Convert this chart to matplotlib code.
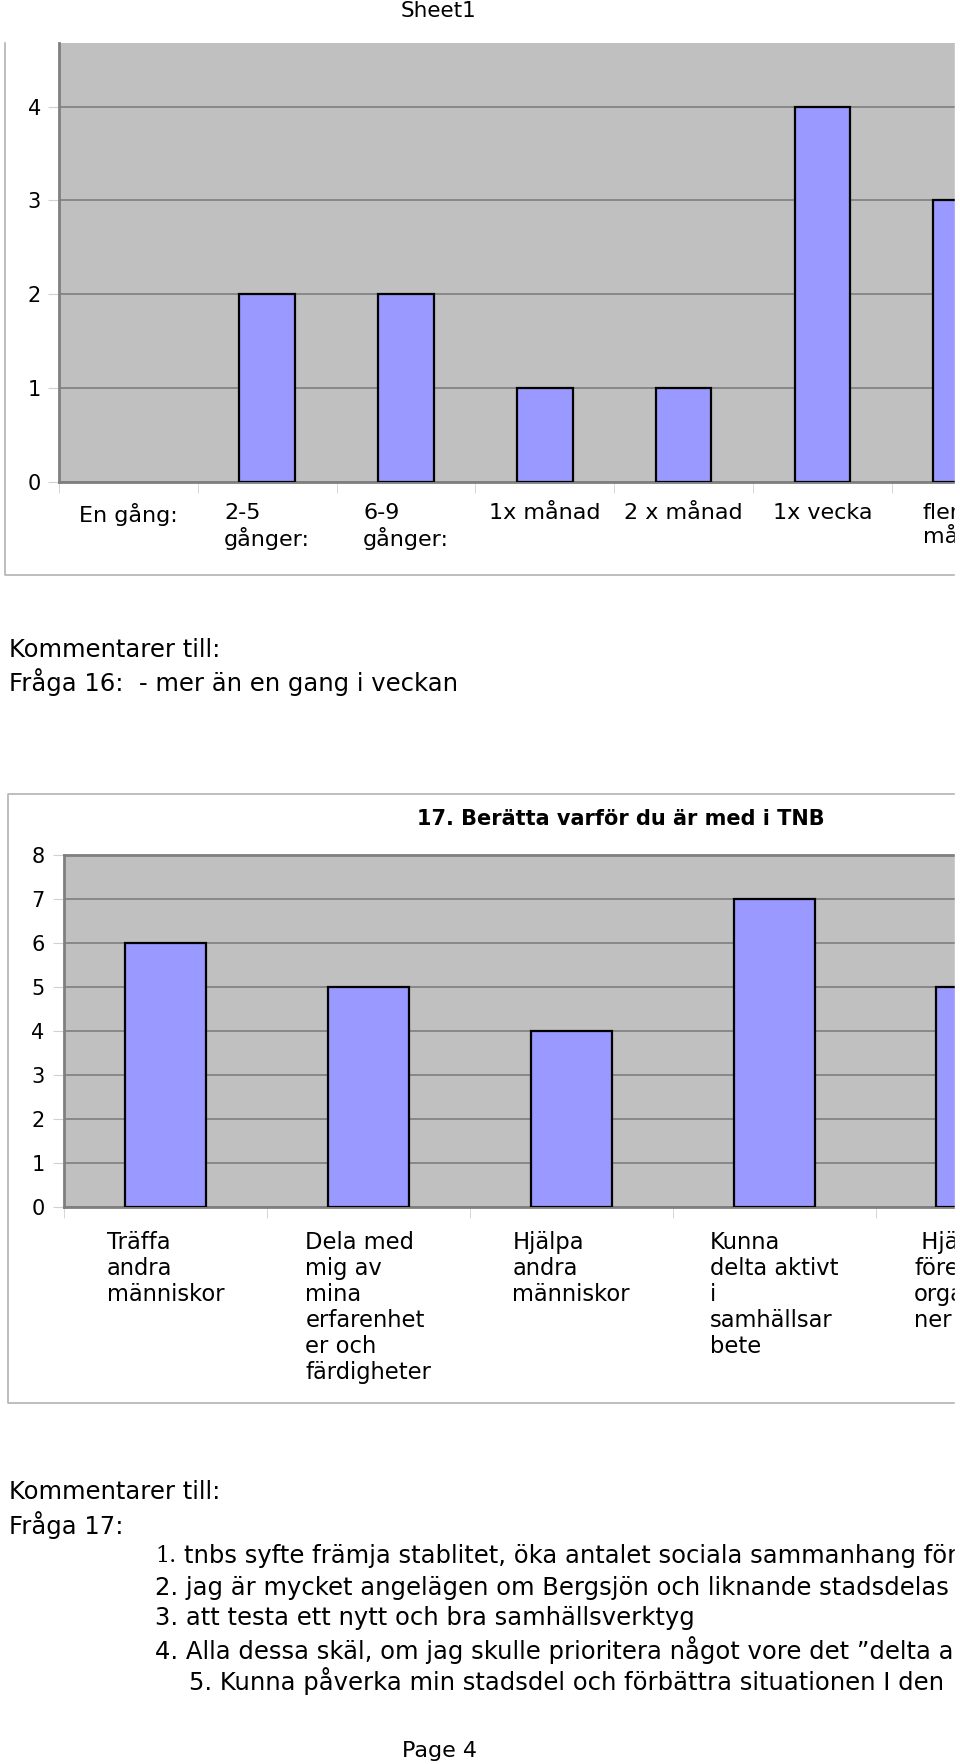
import matplotlib.pyplot as plt
from matplotlib.patches import Rectangle
from matplotlib.lines import Line2D

W, H = 960, 1764

# Fråga 16 chart
freq_labels = ["En gång:", "2-5\ngånger:", "6-9\ngånger:", "1x månad",
               "2 x månad", "1x vecka", "flera\nmånad"]
freq_counts = [0, 2, 2, 1, 1, 4, 3]

# Fråga 17 chart
reason_title = "17. Berätta varför du är med i TNB"
reason_labels = ["Träffa\nandra\nmänniskor",
                 "Dela med\nmig av\nmina\nerfarenhet\ner och\nfärdigheter",
                 "Hjälpa\nandra\nmänniskor",
                 "Kunna\ndelta aktivt\ni\nsamhällsar\nbete",
                 " Hjälpa\nföreningar/\norganisatio\nner"]
reason_counts = [6, 5, 4, 7, 5]

comment_16 = "Fråga 16:  - mer än en gang i veckan"
comments_17 = [
    "tnbs syfte främja stablitet, öka antalet sociala sammanhang för",
    "2. jag är mycket angelägen om Bergsjön och liknande stadsdelas framtid",
    "3. att testa ett nytt och bra samhällsverktyg",
    "4. Alla dessa skäl, om jag skulle prioritera något vore det ”delta aktivt”",
    "5. Kunna påverka min stadsdel och förbättra situationen I den",
]

BAR = '#9999ff'
BG = '#c0c0c0'
GRID = '#7f7f7f'
BORDER = '#b3b3b3'

fig = plt.figure(figsize=(W / 100, H / 100), dpi=100)


def fx(x):
    return x / W


def fy(y):
    return 1 - y / H


def px_axes(x0, x1, top, bottom):
    return fig.add_axes([fx(x0), fy(bottom), (x1 - x0) / W, (bottom - top) / H])


def border_line(xs, ys):
    fig.add_artist(Line2D([fx(x) for x in xs], [fy(y) for y in ys],
                          transform=fig.transFigure, color=BORDER, lw=1.2))


def text(x, y, s, **kw):
    kw.setdefault('fontsize', 17.5)
    kw.setdefault('va', 'center')
    fig.text(fx(x), fy(y), s, **kw)


def bar_chart(ax, labels, counts, xmax, ymax, label_size, label_pad, linesp, top_spine):
    ax.set_facecolor(BG)
    xs = [i + 0.5 for i in range(len(counts))]
    lws = [1.6 if v else 0 for v in counts]
    ax.bar(xs, counts, width=0.4, color=BAR, edgecolor='black',
           linewidth=lws, zorder=3)
    ax.set_yticks(range(int(ymax) + 1))
    ax.yaxis.grid(True, color=GRID, lw=1.2)
    ax.set_axisbelow(True)
    for side in ['left', 'bottom', 'top']:
        ax.spines[side].set_color(GRID)
        ax.spines[side].set_linewidth(2)
    ax.spines['right'].set_visible(False)
    ax.spines['top'].set_visible(top_spine)
    ax.tick_params(axis='y', length=8, color='#d0d0d0', pad=5, labelsize=15)
    ax.set_xticks(xs)
    ax.set_xticklabels(labels)
    ax.set_xticks(range(len(counts) + 1), minor=True)
    ax.tick_params(axis='x', which='major', length=0, pad=label_pad,
                   labelsize=label_size)
    ax.tick_params(axis='x', which='minor', length=8, color='#d0d0d0')
    for lab in ax.get_xticklabels():
        lab.set_multialignment('left')
        lab.set_linespacing(linesp)
        lab.set_verticalalignment('top')
    ax.set_xlim(0, xmax)
    ax.set_ylim(0, ymax)


# the axes run past the page edge; the page crops them at x=955
X_END = 1160

# chart 1
ax1 = px_axes(59, X_END, 43, 481.7)
bar_chart(ax1, freq_labels, freq_counts, (X_END - 59) / 138.8, 4.68, 16, 15, 1.25, False)
border_line([4.5, 4.5, 955], [43, 575, 575])
text(439, 11, "Sheet1", fontsize=15.5, ha='center')

text(9, 650, "Kommentarer till:")
text(9, 682, comment_16)

# chart 2
ax2 = px_axes(64, X_END, 855, 1207)
bar_chart(ax2, reason_labels, reason_counts, (X_END - 64) / 202.9, 8, 16.3, 17, 1.17, True)
ax2.tick_params(axis='y', pad=6)
border_line([955, 7.5, 7.5, 955], [794, 794, 1403, 1403])
text(621, 819, reason_title, fontsize=15, fontweight='bold', ha='center')

text(9, 1492, "Kommentarer till:")
text(9, 1525, "Fråga 17:")
text(155, 1556, "1.", family='DejaVu Serif', fontsize=16)
text(184, 1556, comments_17[0])
line_y = [1588, 1618, 1650, 1681]
line_x = [155, 155, 155, 189]
for x, y, s in zip(line_x, line_y, comments_17[1:]):
    text(x, y, s)

text(439, 1751, "Page 4", fontsize=16, ha='center')

# page is cut at the right edge
fig.add_artist(Rectangle((fx(955), 0), 5 / W, 1, transform=fig.transFigure,
                         color='white', zorder=10))

fig.savefig('out.png', dpi=100, facecolor='white')
